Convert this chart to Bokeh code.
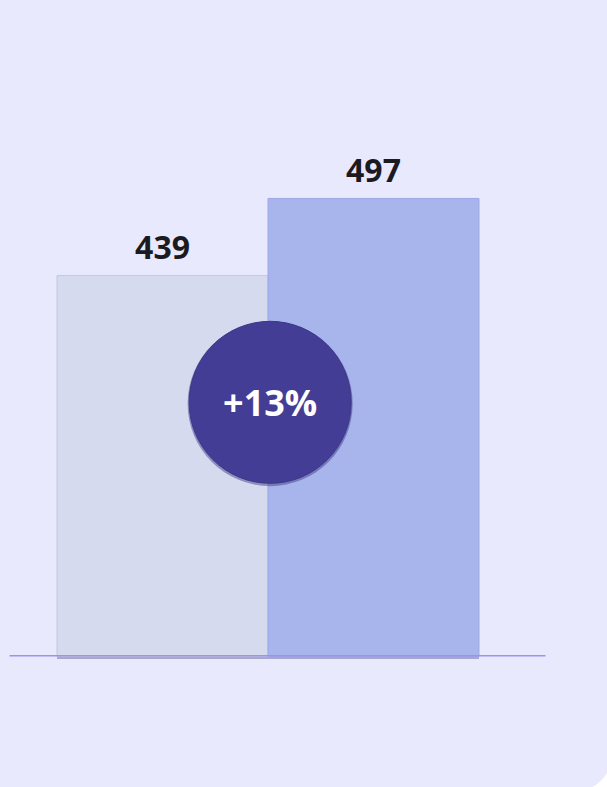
import numpy as np
from bokeh.plotting import figure
from bokeh.models import ColumnDataSource, Range1d
from bokeh.core.properties import value
from bokeh.embed import file_html
from bokeh.resources import INLINE

# data
categories = ["Before", "After"]
values = [439, 497]
labels = ["439", "497"]
change_label = "+13%"
baseline = 152

bar_colors = ["#D5DAEE", "#A8B4EC"]
bar_lines = ["#C4C7E0", "#9DA9E6"]

x_pos = [0, 1]
src = ColumnDataSource(dict(x=x_pos, top=values, bottom=[baseline] * 2,
                            label=labels, fill=bar_colors, line=bar_lines))

W, H = 607, 787
X0, X1 = -0.768, 2.109
Y0, Y1 = 53.3, 646.1
BG = "#E9E9FE"
p = figure(width=W, height=H, output_backend="svg", toolbar_location=None,
           x_range=Range1d(X0, X1), y_range=Range1d(Y0, Y1),
           min_border=0, min_border_left=0, min_border_right=0,
           min_border_top=0, min_border_bottom=0)
p.axis.visible = False
p.grid.visible = False
p.outline_line_color = None
p.background_fill_color = BG
p.border_fill_color = BG
p.styles = {"background-color": BG}


def px2data(px, py):
    return X0 + np.asarray(px) * (X1 - X0) / W, Y1 - np.asarray(py) * (Y1 - Y0) / H


# white page corner outside the rounded card (bottom-right)
r = 40
cx, cy = 612 - r, 792 - r
ang = np.linspace(0, np.pi / 2, 30)
arc_x = cx + r * np.cos(ang)
arc_y = cy + r * np.sin(ang)
cxs = np.concatenate([arc_x, [W + 20, W + 20]])
cys = np.concatenate([arc_y, [H + 20, cy]])
dx, dy = px2data(cxs, cys)
p.patch(list(dx), list(dy), fill_color="white", line_color=None)

# bar bottom shadow
p.vbar(x="x", width=1.0, top=baseline, bottom=baseline - 2.0, source=src,
       fill_color="#A9A8C6", line_color=None)
# bars
p.vbar(x="x", width=1.0, top="top", bottom="bottom", source=src,
       fill_color="fill", line_color="line", line_width=1)

# baseline
p.segment(x0=[-0.725], x1=[1.815], y0=[baseline + 0.6], y1=[baseline + 0.6],
          line_color="#9A93F0", line_width=1.5)

# value labels
p.text(x="x", y="top", text="label", source=src, y_offset=-16,
       text_align="center", text_baseline="bottom",
       text_font=value("Open Sans"), text_font_style="bold",
       text_font_size="32px", text_color="#1B1B1F")

# change badge
badge_y = baseline + (values[0] - baseline) * 0.667
p.scatter(x=[0.51], y=[badge_y - 1.0], size=165, marker="circle",
          fill_color="#36307E", fill_alpha=0.45, line_color=None)
p.scatter(x=[0.51], y=[badge_y], size=162, marker="circle",
          fill_color="#443D95", line_color="#3D3789", line_width=1)
p.text(x=[0.51], y=[badge_y], text=[change_label],
       text_align="center", text_baseline="middle",
       text_font=value("Open Sans"), text_font_style="bold",
       text_font_size="36px", text_color="white")

html = file_html(p, INLINE)
html = html.replace("<body>", '<body style="margin:0;background:%s">' % BG, 1)
open("out.html", "w").write(html)
